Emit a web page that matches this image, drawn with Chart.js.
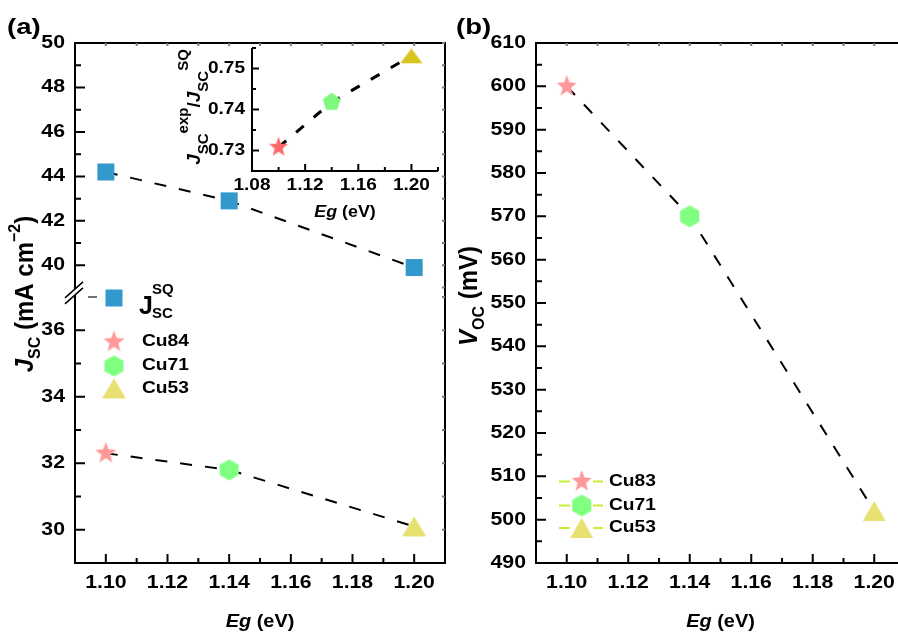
<!DOCTYPE html>
<html>
<head>
<meta charset="utf-8">
<script src="https://cdn.jsdelivr.net/npm/chart.js@4.4.1/dist/chart.umd.min.js"></script>
<style>
html, body { margin: 0; padding: 0; background: #fff; overflow: hidden; width: 898px; height: 634px; }
canvas { position: absolute; }
#chartA { left: 0; top: 0; }
#chartB { left: 450px; top: 0; }
#chartIn { left: 170px; top: 20px; }
</style>
</head>
<body>
<canvas id="chartA" width="450" height="634"></canvas>
<canvas id="chartB" width="460" height="634"></canvas>
<canvas id="chartIn" width="280" height="210"></canvas>
<script>
// band gap of the three absorbers
const egValues = [1.10, 1.14, 1.20];
// (a) Jsc: SQ limit and measured
const jscSQ = [44.2, 42.9, 39.9];
const jscExp = [32.3, 31.8, 30.1];
// inset: Jsc(exp) / Jsc(SQ)
const jscRatio = [0.7308, 0.7418, 0.7531];
// (b) Voc in mV
const vocExp = [600, 570, 502];

const namesA = ['Cu84', 'Cu71', 'Cu53'];
const namesB = ['Cu83', 'Cu71', 'Cu53'];

const xTicksMain = [1.10, 1.12, 1.14, 1.16, 1.18, 1.20];
const xMinorMain = [1.11, 1.13, 1.15, 1.17, 1.19];
const yTicksTop = [40, 42, 44, 46, 48, 50];
const yMinorTop = [41, 43, 45, 47, 49];
const yTicksBot = [30, 32, 34, 36];
const yMinorBot = [31, 33, 35];
const yTicksVoc = [490, 500, 510, 520, 530, 540, 550, 560, 570, 580, 590, 600, 610];
const yMinorVoc = [495, 505, 515, 525, 535, 545, 555, 565, 575, 585, 595, 605];
const xTicksIn = [1.08, 1.12, 1.16, 1.20];
const xMinorIn = [1.10, 1.14, 1.18, 1.22];
const yTicksIn = [0.73, 0.74, 0.75];
const yMinorIn = [0.725, 0.735, 0.745, 0.755];

const FONT = '"Liberation Sans", Arial, sans-serif';

function makeMarker(shape, w, h, color) {
    const c = document.createElement('canvas');
    c.width = Math.ceil(w + 2);
    c.height = Math.ceil(h + 2);
    const g = c.getContext('2d');
    const cx = c.width / 2, cy = c.height / 2, hw = w / 2, hh = h / 2;
    g.fillStyle = color;
    g.beginPath();
    if (shape === 'square') {
        g.rect(cx - hw, cy - hh, w, h);
    } else if (shape === 'triangle') {
        g.moveTo(cx, cy - hh);
        g.lineTo(cx + hw, cy + hh);
        g.lineTo(cx - hw, cy + hh);
    } else if (shape === 'hexagon') {
        g.moveTo(cx, cy - hh);
        g.lineTo(cx + hw, cy - hh / 2);
        g.lineTo(cx + hw, cy + hh / 2);
        g.lineTo(cx, cy + hh);
        g.lineTo(cx - hw, cy + hh / 2);
        g.lineTo(cx - hw, cy - hh / 2);
    } else {
        // star or pentagon, w = full width, h = 2 * radius
        const n = shape === 'star' ? 10 : 5;
        for (let i = 0; i < n; i++) {
            const r = (shape === 'star' && i % 2) ? 0.42 : 1;
            const ang = -Math.PI / 2 + i * 2 * Math.PI / n;
            const px = cx + Math.cos(ang) * r * hw / 0.951;
            const py = cy + Math.sin(ang) * r * hh;
            if (i) g.lineTo(px, py); else g.moveTo(px, py);
        }
    }
    g.closePath();
    g.fill();
    return c;
}

const squareA = makeMarker('square', 17, 17, '#3399cc');
const starA = makeMarker('star', 21, 23, '#ff9999');
const hexA = makeMarker('hexagon', 19, 21, '#80ff80');
const triA = makeMarker('triangle', 24, 20, '#e8e171');
const starB = makeMarker('star', 20, 23, '#ff9999');
const hexB = makeMarker('hexagon', 19, 22, '#80ff80');
const triB = makeMarker('triangle', 23, 20, '#e8e171');
const starIn = makeMarker('star', 19, 21, '#ff6b6b');
const pentIn = makeMarker('pentagon', 18, 19, '#80f880');
const triIn = makeMarker('triangle', 22, 15, '#d8c41e');

function text(ctx, str, x, y, size, o = {}) {
    ctx.save();
    ctx.translate(x, y);
    ctx.scale(o.sx || 1, 1);
    ctx.font = (o.italic ? 'italic ' : '') + 'bold ' + size + 'px ' + FONT;
    ctx.textAlign = o.align || 'left';
    ctx.textBaseline = o.base || 'alphabetic';
    ctx.fillStyle = '#000';
    ctx.fillText(str, 0, 0);
    ctx.restore();
}

// parts: {t, size, italic, dy}; centred on (x, y) along the text direction
function richText(ctx, parts, x, y, o = {}) {
    ctx.save();
    ctx.translate(x, y);
    ctx.scale(o.sx || 1, 1);
    if (o.rotate) ctx.rotate(-Math.PI / 2);
    ctx.fillStyle = '#000';
    ctx.textAlign = 'left';
    ctx.textBaseline = 'alphabetic';
    const fontOf = p => (p.italic ? 'italic ' : '') + 'bold ' + p.size + 'px ' + FONT;
    let total = 0;
    const widths = parts.map(p => {
        ctx.font = fontOf(p);
        const w = ctx.measureText(p.t).width;
        total += w;
        return w;
    });
    let cx = -total / 2;
    parts.forEach((p, i) => {
        ctx.font = fontOf(p);
        ctx.fillText(p.t, cx, p.dy || 0);
        cx += widths[i];
    });
    ctx.restore();
}

function ticksY(ctx, scale, values, x, len, color) {
    ctx.strokeStyle = color;
    ctx.beginPath();
    values.forEach(v => {
        const y = scale.getPixelForValue(v);
        ctx.moveTo(x, y);
        ctx.lineTo(x + len, y);
    });
    ctx.stroke();
}

function ticksX(ctx, scale, values, y, len, color) {
    ctx.strokeStyle = color;
    ctx.beginPath();
    values.forEach(v => {
        const x = scale.getPixelForValue(v);
        ctx.moveTo(x, y);
        ctx.lineTo(x, y - len);
    });
    ctx.stroke();
}

function hiddenAxis(extra) {
    return Object.assign({
        type: 'linear',
        ticks: { display: false },
        grid: { display: false },
        border: { display: false }
    }, extra);
}

function points(xs, ys) {
    return xs.map((x, i) => ({ x: x, y: ys[i] }));
}

// ---------------- (a) ----------------
const frameA = {
    id: 'frameA',
    afterDraw(chart) {
        const ctx = chart.ctx, a = chart.chartArea;
        const x = chart.scales.x, yT = chart.scales.yTop, yB = chart.scales.yBot;
        ctx.save();
        ctx.lineWidth = 2;
        ctx.strokeStyle = '#000';
        ctx.strokeRect(a.left, a.top, a.right - a.left, a.bottom - a.top);

        // ticks
        ticksX(ctx, x, xTicksMain, a.bottom, 9, '#000');
        ticksX(ctx, x, xMinorMain, a.bottom, 5, '#000');
        ticksY(ctx, yT, yTicksTop, a.left, 10, '#000');
        ticksY(ctx, yT, yMinorTop, a.left, 6, '#000');
        ticksY(ctx, yB, yTicksBot, a.left, 10, '#000');
        ticksY(ctx, yB, yMinorBot, a.left, 6, '#000');
        ticksX(ctx, x, xTicksMain.concat(xMinorMain), a.top, -3, '#777');
        ticksY(ctx, yT, yTicksTop.concat(yMinorTop, [39]), a.right, -3, '#777');
        ticksY(ctx, yB, yTicksBot.concat(yMinorBot, [37]), a.right, -3, '#777');

        // axis break
        const brk = (yT.bottom + yB.top) / 2;
        ctx.fillStyle = '#fff';
        ctx.fillRect(a.left - 2, brk - 3, 4, 6);
        ctx.lineWidth = 1.5;
        ctx.strokeStyle = '#000';
        ctx.beginPath();
        [-3, 3].forEach(off => {
            ctx.moveTo(a.left - 10, brk + off + 8.9);
            ctx.lineTo(a.left + 8, brk + off - 7.1);
        });
        ctx.stroke();

        // tick labels
        xTicksMain.forEach(v => text(ctx, v.toFixed(2), x.getPixelForValue(v), 583, 18, { align: 'center', base: 'middle', sx: 1.18 }));
        yTicksTop.forEach(v => text(ctx, String(v), 65, yT.getPixelForValue(v), 18, { align: 'right', base: 'middle', sx: 1.18 }));
        yTicksBot.forEach(v => text(ctx, String(v), 65, yB.getPixelForValue(v), 18, { align: 'right', base: 'middle', sx: 1.18 }));

        // titles
        text(ctx, '(a)', 7, 34, 22, { sx: 1.25 });
        richText(ctx, [
            { t: 'J', size: 24, italic: true },
            { t: 'SC', size: 16, dy: 7 },
            { t: ' (mA cm', size: 24 },
            { t: '\u22122', size: 16, dy: -12 },
            { t: ')', size: 24 }
        ], 33, 294, { rotate: true, sx: 1.05 });
        richText(ctx, [
            { t: 'Eg', size: 19, italic: true },
            { t: ' (eV)', size: 19 }
        ], (a.left + a.right) / 2, 627, { sx: 1.05 });

        // legend
        ctx.lineWidth = 1.5;
        ctx.strokeStyle = '#444';
        ctx.beginPath();
        ctx.moveTo(88, 297);
        ctx.lineTo(97, 297);
        ctx.stroke();
        ctx.drawImage(squareA, 114 - squareA.width / 2, 298 - squareA.height / 2);
        text(ctx, 'J', 139, 314, 25);
        text(ctx, 'SQ', 152, 294, 15);
        text(ctx, 'SC', 152, 318, 15);
        const legMarks = [starA, hexA, triA];
        const legRows = [342, 366, 388.5];
        namesA.forEach((n, i) => {
            const m = legMarks[i];
            ctx.drawImage(m, 114 - m.width / 2, legRows[i] - m.height / 2);
            text(ctx, n, 142, legRows[i], 16, { base: 'middle', sx: 1.2 });
        });
        ctx.restore();
    }
};

new Chart(document.getElementById('chartA'), {
    type: 'line',
    data: {
        datasets: [
            {
                label: 'Jsc SQ',
                data: points(egValues, jscSQ),
                yAxisID: 'yTop',
                borderColor: '#000',
                borderWidth: 2,
                borderDash: [12, 13],
                pointStyle: squareA,
                pointRadius: 10,
                clip: false
            },
            {
                label: 'Jsc exp',
                data: points(egValues, jscExp),
                yAxisID: 'yBot',
                borderColor: '#000',
                borderWidth: 2,
                borderDash: [12, 13],
                pointStyle: [starA, hexA, triA],
                pointRadius: 10,
                clip: false
            }
        ]
    },
    options: {
        responsive: false,
        animation: false,
        events: [],
        layout: { autoPadding: false, padding: { top: 43, right: 5, left: 0, bottom: 0 } },
        plugins: { legend: { display: false }, tooltip: { enabled: false } },
        scales: {
            x: hiddenAxis({ min: 1.09, max: 1.21, afterFit: s => { s.height = 71; } }),
            // left boxes are stacked in reverse: the last one ends up on top
            yBot: hiddenAxis({ position: 'left', stack: 'jsc', stackWeight: 271, min: 29, max: 37.15, afterFit: s => { s.width = 75; } }),
            yTop: hiddenAxis({ position: 'left', stack: 'jsc', stackWeight: 249, min: 38.8, max: 50, afterFit: s => { s.width = 75; } })
        }
    },
    plugins: [frameA]
});

// ---------------- inset ----------------
const frameIn = {
    id: 'frameIn',
    afterDraw(chart) {
        const ctx = chart.ctx, a = chart.chartArea;
        const x = chart.scales.x, y = chart.scales.y;
        ctx.save();
        ctx.lineWidth = 2;
        ctx.strokeStyle = '#000';
        ctx.beginPath();
        ctx.moveTo(a.left, a.top);
        ctx.lineTo(a.left, a.bottom);
        ctx.lineTo(a.right, a.bottom);
        ctx.stroke();
        ticksX(ctx, x, xTicksIn, a.bottom, 7, '#000');
        ticksX(ctx, x, xMinorIn, a.bottom, 4, '#000');
        ticksY(ctx, y, yTicksIn, a.left, 7, '#000');
        ticksY(ctx, y, yMinorIn, a.left, 4, '#000');

        xTicksIn.forEach(v => text(ctx, v.toFixed(2), x.getPixelForValue(v), 165, 17, { align: 'center', base: 'middle', sx: 1.12 }));
        yTicksIn.forEach(v => text(ctx, v.toFixed(2), 75, y.getPixelForValue(v), 17, { align: 'right', base: 'middle', sx: 1.12 }));

        richText(ctx, [
            { t: 'Eg', size: 17, italic: true },
            { t: ' (eV)', size: 17 }
        ], (a.left + a.right) / 2, 197, { sx: 1.05 });
        richText(ctx, [
            { t: 'J', size: 19, italic: true },
            { t: 'SC', size: 15, dy: 8 },
            { t: 'exp', size: 15, dy: -12 },
            { t: '/', size: 19 },
            { t: 'J', size: 19, italic: true },
            { t: 'SC', size: 15, dy: 8 },
            { t: 'SQ', size: 15, dy: -12 }
        ], 30, 87, { rotate: true });
        ctx.restore();
    }
};

new Chart(document.getElementById('chartIn'), {
    type: 'line',
    data: {
        datasets: [{
            label: 'ratio',
            data: points(egValues, jscRatio),
            borderColor: '#000',
            borderWidth: 3,
            borderDash: [10, 13],
            pointStyle: [starIn, pentIn, triIn],
            pointRadius: 10,
            clip: false
        }]
    },
    options: {
        responsive: false,
        animation: false,
        events: [],
        layout: { autoPadding: false, padding: { top: 28, right: 12, left: 0, bottom: 0 } },
        plugins: { legend: { display: false }, tooltip: { enabled: false } },
        scales: {
            x: hiddenAxis({ min: 1.08, max: 1.22, afterFit: s => { s.height = 59; } }),
            y: hiddenAxis({ min: 0.725, max: 0.755, afterFit: s => { s.width = 82; } })
        }
    },
    plugins: [frameIn]
});

// ---------------- (b) ----------------
const frameB = {
    id: 'frameB',
    afterDraw(chart) {
        const ctx = chart.ctx, a = chart.chartArea;
        const x = chart.scales.x, y = chart.scales.y;
        ctx.save();
        ctx.lineWidth = 2;
        ctx.strokeStyle = '#000';
        ctx.strokeRect(a.left, a.top, a.right - a.left, a.bottom - a.top);
        ticksX(ctx, x, xTicksMain, a.bottom, 9, '#000');
        ticksX(ctx, x, xMinorMain, a.bottom, 5, '#000');
        ticksY(ctx, y, yTicksVoc, a.left, 10, '#000');
        ticksY(ctx, y, yMinorVoc, a.left, 6, '#000');
        ticksX(ctx, x, xTicksMain.concat(xMinorMain), a.top, -3, '#777');

        xTicksMain.forEach(v => text(ctx, v.toFixed(2), x.getPixelForValue(v), 583, 18, { align: 'center', base: 'middle', sx: 1.18 }));
        yTicksVoc.forEach(v => text(ctx, String(v), 76, y.getPixelForValue(v), 18, { align: 'right', base: 'middle', sx: 1.18 }));

        text(ctx, '(b)', 6, 34, 22, { sx: 1.25 });
        richText(ctx, [
            { t: 'V', size: 24, italic: true },
            { t: 'OC', size: 16, dy: 7 },
            { t: ' (mV)', size: 24 }
        ], 27, 296, { rotate: true, sx: 1.05 });
        richText(ctx, [
            { t: 'Eg', size: 19, italic: true },
            { t: ' (eV)', size: 19 }
        ], (a.left + a.right) / 2, 627, { sx: 1.05 });

        // legend
        const legMarks = [starB, hexB, triB];
        const legRows = [481.5, 505.5, 528];
        ctx.lineWidth = 2;
        ctx.strokeStyle = '#c8ee3a';
        namesB.forEach((n, i) => {
            const r = legRows[i];
            ctx.beginPath();
            ctx.moveTo(109, r); ctx.lineTo(120, r);
            ctx.moveTo(143, r); ctx.lineTo(153, r);
            ctx.stroke();
            const m = legMarks[i];
            ctx.drawImage(m, 131.7 - m.width / 2, r - m.height / 2);
            text(ctx, n, 159, r, 16, { base: 'middle', sx: 1.2 });
        });
        ctx.restore();
    }
};

new Chart(document.getElementById('chartB'), {
    type: 'line',
    data: {
        datasets: [{
            label: 'Voc',
            data: points(egValues, vocExp),
            borderColor: '#000',
            borderWidth: 2,
            borderDash: [12, 13],
            pointStyle: [starB, hexB, triB],
            pointRadius: 10,
            clip: false
        }]
    },
    options: {
        responsive: false,
        animation: false,
        events: [],
        layout: { autoPadding: false, padding: { top: 43, right: 5, left: 0, bottom: 0 } },
        plugins: { legend: { display: false }, tooltip: { enabled: false } },
        scales: {
            x: hiddenAxis({ min: 1.09, max: 1.21, afterFit: s => { s.height = 71; } }),
            y: hiddenAxis({ min: 490, max: 610, afterFit: s => { s.width = 86; } })
        }
    },
    plugins: [frameB]
});
</script>
</body>
</html>
